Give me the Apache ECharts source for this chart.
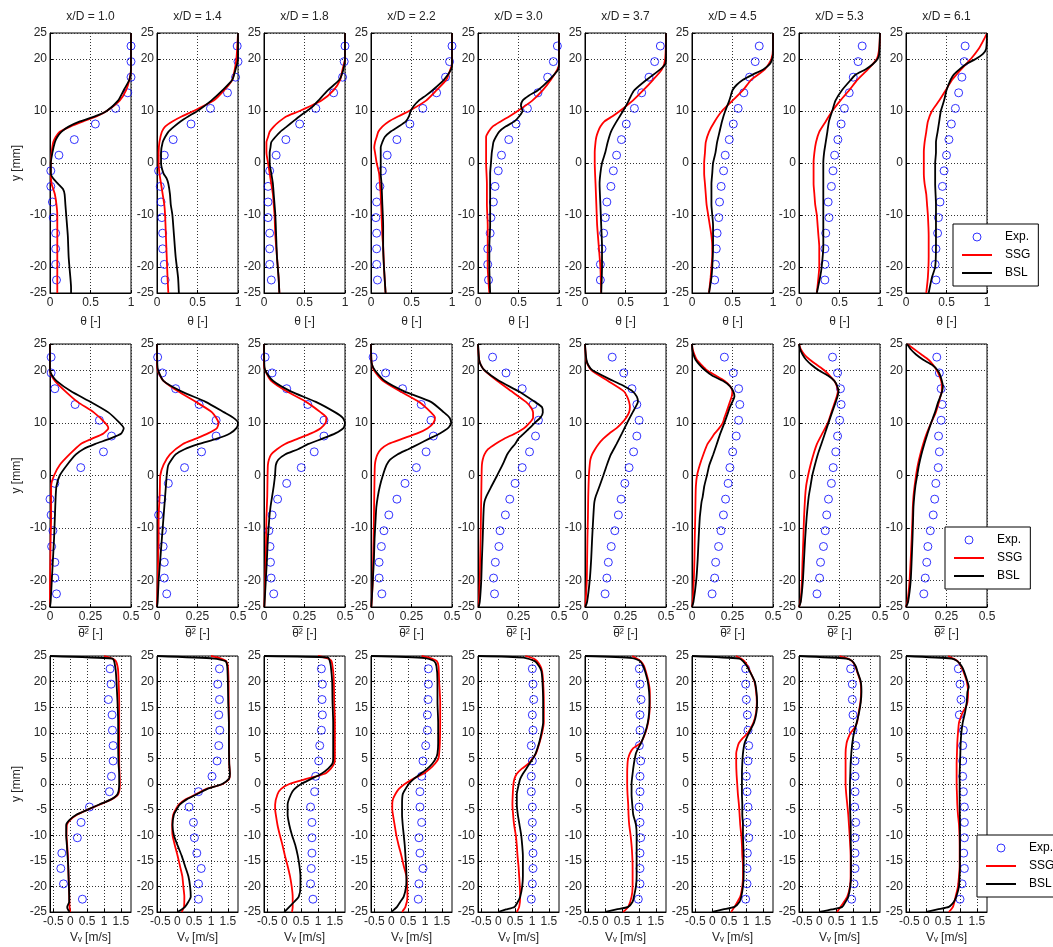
<!DOCTYPE html>
<html><head><meta charset="utf-8">
<script src="https://cdn.jsdelivr.net/npm/echarts@6/dist/echarts.min.js"></script>
<style>html,body{margin:0;padding:0;background:#fff}#c{width:1053px;height:947px}</style>
</head><body><div id="c"></div><script>
// ---------------- DATA ----------------
const titles = ['x/D = 1.0','x/D = 1.4','x/D = 1.8','x/D = 2.2','x/D = 3.0','x/D = 3.7','x/D = 4.5','x/D = 5.3','x/D = 6.1'];
const yExp = [22.5,19.5,16.5,13.5,10.5,7.5,4.5,1.5,-1.5,-4.5,-7.5,-10.5,-13.5,-16.5,-19.5,-22.5];
const yTicksAB = [-25,-20,-10,0,10,20,25];
const yTicksC = [-25,-20,-15,-10,-5,0,5,10,15,20,25];
const xTicksA = [0,0.5,1];
const xTicksB = [0,0.25,0.5];
const xTicksC = [-0.5,0,0.5,1,1.5];
const xNames = ['θ [-]', 'θ² [-]', 'V\u1d65 [m/s]'];
const overlinedPart = 'θ²';
const legendNames = ['Exp.','SSG','BSL'];

// Row 1: mean theta
const r1Exp = [
 [1.0,1.0,1.0,0.96,0.81,0.56,0.30,0.11,0.01,0.01,0.03,0.04,0.07,0.07,0.07,0.08],
 [0.99,1.0,0.97,0.87,0.66,0.42,0.20,0.09,0.02,0.04,0.05,0.06,0.07,0.07,0.09,0.10],
 [1.0,0.99,0.97,0.86,0.64,0.44,0.27,0.15,0.07,0.05,0.05,0.05,0.07,0.07,0.07,0.09],
 [1.0,0.97,0.92,0.81,0.64,0.48,0.32,0.20,0.14,0.11,0.07,0.06,0.07,0.07,0.07,0.08],
 [0.98,0.93,0.86,0.74,0.61,0.47,0.38,0.29,0.25,0.21,0.19,0.16,0.15,0.12,0.12,0.13],
 [0.93,0.86,0.79,0.70,0.61,0.51,0.45,0.39,0.35,0.32,0.27,0.25,0.23,0.21,0.19,0.19],
 [0.83,0.78,0.71,0.64,0.57,0.51,0.46,0.41,0.39,0.36,0.34,0.33,0.31,0.30,0.29,0.28],
 [0.78,0.73,0.67,0.62,0.56,0.52,0.48,0.44,0.42,0.40,0.36,0.37,0.33,0.32,0.32,0.32],
 [0.73,0.72,0.69,0.65,0.61,0.56,0.53,0.50,0.47,0.45,0.42,0.40,0.39,0.37,0.36,0.37]
];
const r1SSG = [
 [[1,25],[1,20],[1,18],[0.98,16],[0.94,14],[0.86,12],[0.70,10],[0.58,9],[0.41,8],[0.25,7],[0.12,6],[0.07,5],[0.04,4],[0.02,2],[0.01,0],[0.01,-2],[0.02,-4],[0.04,-5],[0.06,-6],[0.08,-8],[0.09,-10],[0.09,-15],[0.09,-20],[0.09,-25]],
 [[1,25],[0.99,22],[0.98,20],[0.96,18],[0.93,16],[0.83,14],[0.70,12],[0.45,10],[0.31,9],[0.19,8],[0.10,7],[0.06,6],[0.03,4],[0.02,2],[0.02,0],[0.03,-2],[0.05,-4],[0.07,-6],[0.09,-8],[0.10,-10],[0.11,-14],[0.12,-18],[0.13,-22],[0.14,-25]],
 [[1,25],[1,20],[0.97,18],[0.94,16],[0.86,14],[0.71,12],[0.44,10],[0.28,9],[0.19,8],[0.12,7],[0.07,6],[0.05,5],[0.03,4],[0.03,2],[0.05,0],[0.07,-2],[0.09,-4],[0.11,-6],[0.12,-8],[0.13,-10],[0.14,-14],[0.16,-18],[0.18,-22],[0.19,-25]],
 [[1,25],[1,19],[0.98,18],[0.93,16],[0.81,14],[0.68,12],[0.47,10],[0.34,9],[0.22,8],[0.14,7],[0.09,6],[0.07,5],[0.05,4],[0.04,3],[0.05,2],[0.07,0],[0.10,-2],[0.11,-4],[0.12,-6],[0.13,-10],[0.14,-14],[0.15,-16],[0.16,-20],[0.18,-25]],
 [[1,25],[1,19],[0.98,18],[0.90,16],[0.80,14],[0.67,12],[0.49,10],[0.39,9],[0.28,8],[0.18,7],[0.13,6],[0.10,5],[0.10,4],[0.10,2],[0.10,0],[0.11,-4],[0.11,-8],[0.12,-12],[0.12,-16],[0.12,-20],[0.14,-25]],
 [[1,25],[0.99,20],[0.95,18],[0.84,16],[0.72,14],[0.59,12],[0.43,10],[0.34,9],[0.24,8],[0.19,7],[0.16,6],[0.14,5],[0.13,4],[0.12,2],[0.12,0],[0.13,-4],[0.14,-8],[0.15,-12],[0.17,-16],[0.19,-20],[0.20,-25]],
 [[1,25],[1,22],[0.98,20],[0.90,18],[0.73,16],[0.63,14],[0.50,12],[0.37,10],[0.28,8],[0.21,6],[0.17,4],[0.16,2],[0.15,0],[0.15,-2],[0.16,-4],[0.17,-6],[0.18,-8],[0.20,-10],[0.22,-12],[0.24,-14],[0.25,-16],[0.25,-18],[0.24,-20],[0.23,-22],[0.21,-25]],
 [[1,25],[0.99,22],[0.96,20],[0.85,18],[0.72,16],[0.62,14],[0.51,12],[0.41,10],[0.33,8],[0.25,6],[0.21,4],[0.19,2],[0.18,0],[0.18,-2],[0.18,-4],[0.19,-6],[0.20,-8],[0.22,-10],[0.23,-12],[0.24,-14],[0.25,-16],[0.25,-18],[0.25,-20],[0.24,-22],[0.22,-25]],
 [[1,25],[0.97,24],[0.90,22],[0.80,20],[0.68,18],[0.57,16],[0.49,14],[0.41,12],[0.32,10],[0.27,8],[0.25,6],[0.23,4],[0.22,2],[0.22,0],[0.22,-2],[0.23,-4],[0.25,-6],[0.26,-8],[0.27,-10],[0.28,-14],[0.28,-18],[0.27,-22],[0.25,-25]]
];
const r1BSL = [
 [[1,25],[1,18],[0.98,16],[0.91,14],[0.84,12],[0.70,10],[0.56,9],[0.37,8],[0.23,7],[0.14,6],[0.09,5],[0.06,4],[0.03,2],[0.01,0],[0.01,-2],[0.04,-3],[0.10,-4],[0.16,-5],[0.18,-6],[0.19,-8],[0.20,-10],[0.22,-14],[0.23,-18],[0.24,-20],[0.26,-24],[0.26,-25]],
 [[1,25],[1,20],[0.97,18],[0.93,16],[0.81,14],[0.67,12],[0.50,10],[0.39,9],[0.29,8],[0.21,7],[0.14,6],[0.10,5],[0.07,4],[0.05,2],[0.05,0],[0.08,-2],[0.12,-3],[0.14,-4],[0.16,-6],[0.17,-8],[0.19,-10],[0.21,-14],[0.23,-18],[0.26,-22],[0.27,-25]],
 [[1,25],[1,20],[0.98,18],[0.93,16],[0.79,14],[0.67,12],[0.61,11],[0.53,10],[0.44,9],[0.36,8],[0.28,7],[0.20,6],[0.14,5],[0.09,4],[0.08,3],[0.07,2],[0.07,0],[0.09,-2],[0.11,-4],[0.12,-6],[0.14,-10],[0.15,-14],[0.16,-18],[0.18,-22],[0.19,-25]],
 [[1,25],[1,19],[0.99,18],[0.90,16],[0.76,14],[0.68,13],[0.59,12],[0.53,11],[0.49,10],[0.47,9],[0.43,8],[0.34,7],[0.24,6],[0.17,5],[0.14,4],[0.12,3],[0.12,2],[0.12,0],[0.12,-2],[0.13,-4],[0.14,-8],[0.15,-12],[0.15,-16],[0.16,-20],[0.18,-25]],
 [[1,25],[1,19],[0.99,18],[0.88,16],[0.74,14],[0.63,13],[0.55,12],[0.53,11],[0.55,10],[0.51,9],[0.45,8],[0.34,7],[0.26,6],[0.22,5],[0.19,4],[0.18,3],[0.17,2],[0.16,0],[0.15,-2],[0.15,-4],[0.15,-8],[0.15,-12],[0.14,-16],[0.14,-20],[0.15,-25]],
 [[1,25],[1,20],[0.99,19],[0.93,18],[0.76,16],[0.61,14],[0.57,13],[0.54,12],[0.47,10],[0.39,8],[0.32,6],[0.28,4],[0.25,2],[0.21,0],[0.19,-2],[0.18,-4],[0.19,-8],[0.20,-12],[0.21,-16],[0.21,-20],[0.20,-25]],
 [[1,25],[1,21],[0.99,20],[0.96,19],[0.88,18],[0.75,17],[0.63,16],[0.55,15],[0.50,14],[0.48,13],[0.46,12],[0.41,10],[0.37,8],[0.34,6],[0.31,4],[0.29,2],[0.26,0],[0.25,-2],[0.24,-4],[0.24,-8],[0.26,-12],[0.26,-16],[0.25,-20],[0.24,-22],[0.21,-25]],
 [[1,25],[0.99,21],[0.97,20],[0.91,19],[0.82,18],[0.70,17],[0.64,16],[0.53,14],[0.45,12],[0.41,10],[0.37,8],[0.35,6],[0.33,4],[0.31,2],[0.30,0],[0.30,-2],[0.30,-4],[0.30,-8],[0.30,-12],[0.30,-16],[0.28,-20],[0.26,-22],[0.22,-25]],
 [[1,25],[0.99,22],[0.95,21],[0.86,20],[0.74,19],[0.66,18],[0.59,17],[0.55,16],[0.50,14],[0.47,12],[0.43,10],[0.41,8],[0.39,6],[0.37,4],[0.37,2],[0.36,0],[0.36,-4],[0.37,-8],[0.37,-12],[0.37,-16],[0.36,-20],[0.32,-22],[0.28,-25]]
];

// Row 2: theta variance
const r2Exp = [
 [0.007,0.007,0.03,0.155,0.305,0.38,0.33,0.19,0.03,0.0,0.007,0.018,0.01,0.03,0.03,0.04],
 [0.004,0.033,0.115,0.26,0.365,0.365,0.275,0.17,0.07,0.03,0.01,0.033,0.038,0.045,0.045,0.06],
 [0.007,0.05,0.14,0.27,0.37,0.37,0.31,0.23,0.14,0.084,0.05,0.03,0.037,0.04,0.044,0.06],
 [0.013,0.09,0.195,0.31,0.37,0.385,0.34,0.28,0.21,0.16,0.11,0.08,0.064,0.05,0.05,0.067],
 [0.09,0.173,0.273,0.34,0.373,0.355,0.318,0.273,0.229,0.196,0.169,0.136,0.129,0.107,0.096,0.102],
 [0.168,0.239,0.29,0.32,0.334,0.32,0.30,0.272,0.246,0.223,0.206,0.184,0.162,0.144,0.135,0.124],
 [0.20,0.255,0.288,0.295,0.288,0.273,0.251,0.234,0.223,0.207,0.194,0.179,0.164,0.146,0.14,0.124],
 [0.207,0.238,0.256,0.26,0.251,0.238,0.227,0.211,0.20,0.182,0.171,0.162,0.151,0.133,0.127,0.111],
 [0.19,0.206,0.217,0.223,0.217,0.201,0.206,0.199,0.184,0.177,0.168,0.15,0.135,0.128,0.119,0.11]
];
const r2SSG = [
 [[0,25],[0,20],[0.01,19],[0.03,18],[0.095,16],[0.17,14],[0.27,12],[0.34,10],[0.36,9],[0.33,8],[0.26,7],[0.19,6],[0.12,4],[0.06,2],[0.025,0],[0.007,-2],[0.007,-4],[0.007,-8],[0.004,-12],[0.002,-16],[0,-20],[0,-25]],
 [[0,25],[0,21],[0.004,20],[0.04,18],[0.13,16],[0.24,14],[0.34,12],[0.38,10],[0.37,9],[0.315,8],[0.24,7],[0.16,6],[0.08,4],[0.04,2],[0.02,0],[0.018,-2],[0.016,-4],[0.01,-8],[0.01,-12],[0.007,-16],[0.004,-20],[0,-25]],
 [[0,25],[0,21],[0.007,20],[0.044,18],[0.14,16],[0.26,14],[0.35,12],[0.385,11],[0.38,10],[0.35,9],[0.29,8],[0.21,7],[0.13,6],[0.08,5],[0.044,4],[0.03,3],[0.024,2],[0.022,0],[0.02,-4],[0.015,-8],[0.013,-12],[0.011,-16],[0.007,-20],[0.002,-25]],
 [[0,25],[0.002,22],[0.007,21],[0.018,20],[0.073,18],[0.18,16],[0.295,14],[0.37,12],[0.395,11],[0.385,10],[0.35,9],[0.285,8],[0.195,7],[0.107,6],[0.062,5],[0.04,4],[0.029,3],[0.024,2],[0.022,0],[0.02,-4],[0.018,-8],[0.016,-12],[0.013,-16],[0.011,-20],[0.002,-25]],
 [[0,25],[0.007,22],[0.018,21],[0.04,20],[0.118,18],[0.207,16],[0.296,14],[0.325,13],[0.34,12],[0.34,11],[0.318,10],[0.284,9],[0.229,8],[0.162,7],[0.107,6],[0.062,5],[0.04,4],[0.029,3],[0.024,2],[0.022,0],[0.02,-4],[0.018,-8],[0.016,-12],[0.013,-16],[0.011,-20],[0.004,-25]],
 [[0,25],[0.002,24],[0.007,22],[0.018,21],[0.04,20],[0.14,18],[0.24,16],[0.26,15],[0.272,14],[0.277,13],[0.272,12],[0.254,11],[0.228,10],[0.195,9],[0.15,8],[0.113,7],[0.084,6],[0.062,5],[0.044,4],[0.033,3],[0.029,2],[0.024,0],[0.02,-4],[0.018,-8],[0.015,-12],[0.013,-16],[0.011,-20],[0.002,-25]],
 [[0,25],[0.004,24],[0.015,23],[0.03,22],[0.059,21],[0.092,20],[0.146,19],[0.20,18],[0.234,17],[0.249,16],[0.245,15],[0.234,14],[0.212,12],[0.20,11],[0.19,10],[0.168,9],[0.14,8],[0.118,7],[0.096,6],[0.07,4],[0.048,2],[0.031,0],[0.024,-2],[0.022,-4],[0.02,-8],[0.017,-12],[0.015,-16],[0.011,-20],[0.004,-24],[0,-25]],
 [[0,25],[0.011,24],[0.033,23],[0.067,22],[0.111,21],[0.156,20],[0.189,19],[0.218,18],[0.233,17],[0.24,16],[0.233,15],[0.222,14],[0.20,12],[0.178,10],[0.144,8],[0.111,6],[0.089,4],[0.071,2],[0.056,0],[0.044,-2],[0.038,-4],[0.031,-8],[0.027,-12],[0.022,-16],[0.018,-20],[0.009,-24],[0,-25]],
 [[0.007,25],[0.051,24],[0.095,23],[0.139,22],[0.168,21],[0.19,20],[0.206,19],[0.217,18],[0.221,17],[0.221,16],[0.212,15],[0.204,14],[0.184,12],[0.155,10],[0.128,8],[0.106,6],[0.088,4],[0.073,2],[0.062,0],[0.053,-2],[0.046,-4],[0.042,-6],[0.04,-8],[0.035,-12],[0.029,-16],[0.022,-20],[0.009,-24],[0,-25]]
];
const r2BSL = [
 [[0,25],[0,20],[0.013,19],[0.04,18],[0.13,16],[0.25,14],[0.36,12],[0.43,10],[0.455,9],[0.44,8],[0.37,7],[0.28,6],[0.205,5],[0.16,4],[0.105,2],[0.06,0],[0.04,-2],[0.035,-4],[0.03,-8],[0.025,-12],[0.018,-16],[0.011,-20],[0.004,-24],[0,-25]],
 [[0,25],[0.002,21],[0.007,20],[0.04,18],[0.15,16],[0.30,14],[0.415,12],[0.47,11],[0.50,10],[0.49,9],[0.45,8],[0.37,7],[0.26,6],[0.17,5],[0.115,4],[0.07,2],[0.06,0],[0.055,-2],[0.05,-4],[0.04,-8],[0.03,-12],[0.02,-16],[0.01,-20],[0.004,-24],[0,-25]],
 [[0,25],[0.002,21],[0.007,20],[0.055,18],[0.165,16],[0.32,14],[0.44,12],[0.485,11],[0.50,10],[0.49,9],[0.44,8],[0.36,7],[0.275,6],[0.21,5],[0.13,4],[0.088,3],[0.073,2],[0.068,0],[0.06,-2],[0.05,-4],[0.04,-6],[0.033,-8],[0.024,-12],[0.018,-16],[0.011,-20],[0.004,-24],[0.002,-25]],
 [[0,25],[0.002,22],[0.007,21],[0.024,20],[0.084,18],[0.205,16],[0.37,14],[0.45,12],[0.485,11],[0.495,10],[0.475,9],[0.425,8],[0.36,7],[0.295,6],[0.23,5],[0.163,4],[0.118,3],[0.096,2],[0.073,0],[0.055,-2],[0.042,-4],[0.033,-6],[0.029,-8],[0.022,-12],[0.018,-16],[0.011,-20],[0.004,-24],[0.002,-25]],
 [[0,25],[0.007,22],[0.018,21],[0.04,20],[0.129,18],[0.25,16],[0.35,14],[0.395,13],[0.40,12],[0.385,11],[0.35,10],[0.318,9],[0.284,8],[0.25,7],[0.229,6],[0.202,5],[0.18,4],[0.151,2],[0.118,0],[0.084,-2],[0.051,-4],[0.04,-5],[0.036,-6],[0.033,-8],[0.029,-12],[0.024,-16],[0.02,-20],[0.011,-24],[0.004,-25]],
 [[0,25],[0.002,24],[0.009,22],[0.02,21],[0.046,20],[0.173,18],[0.24,17],[0.294,16],[0.32,15],[0.327,14],[0.312,13],[0.294,12],[0.26,10],[0.228,8],[0.195,6],[0.16,4],[0.135,2],[0.113,0],[0.09,-2],[0.066,-4],[0.058,-5],[0.055,-6],[0.051,-8],[0.044,-12],[0.038,-16],[0.029,-20],[0.013,-24],[0.002,-25]],
 [[0,25],[0.002,24],[0.009,23],[0.022,22],[0.048,21],[0.081,20],[0.124,19],[0.19,18],[0.234,17],[0.255,16],[0.262,15],[0.249,14],[0.234,13],[0.223,12],[0.20,10],[0.175,8],[0.153,6],[0.131,4],[0.107,2],[0.092,0],[0.076,-2],[0.066,-4],[0.059,-5],[0.055,-6],[0.048,-8],[0.041,-12],[0.035,-16],[0.026,-20],[0.009,-24],[0,-25]],
 [[0,25],[0.007,24],[0.022,23],[0.044,22],[0.078,21],[0.122,20],[0.178,19],[0.218,18],[0.236,17],[0.244,16],[0.238,15],[0.227,14],[0.204,12],[0.182,10],[0.16,8],[0.138,6],[0.116,4],[0.098,2],[0.082,0],[0.071,-2],[0.06,-4],[0.053,-6],[0.047,-8],[0.038,-12],[0.031,-16],[0.024,-20],[0.011,-24],[0,-25]],
 [[0.007,25],[0.029,24],[0.062,23],[0.106,22],[0.162,21],[0.195,20],[0.212,19],[0.221,18],[0.228,17],[0.223,16],[0.212,15],[0.199,14],[0.179,12],[0.155,10],[0.133,8],[0.113,6],[0.095,4],[0.08,2],[0.069,0],[0.058,-2],[0.051,-4],[0.046,-6],[0.044,-8],[0.04,-12],[0.035,-16],[0.029,-20],[0.013,-24],[0,-25]]
];

// Row 3: vertical velocity
const r3Exp = [
 [1.18,1.21,1.13,1.24,1.25,1.27,1.27,1.22,1.16,0.57,0.32,0.21,-0.25,-0.28,-0.20,0.36],
 [1.25,1.20,1.25,1.23,1.26,1.23,1.18,1.03,0.63,0.35,0.48,0.51,0.58,0.71,0.63,0.63],
 [1.10,1.13,1.12,1.13,1.10,1.05,1.02,0.93,0.90,0.78,0.82,0.82,0.82,0.80,0.78,0.85],
 [1.10,1.10,1.09,1.07,1.07,1.02,0.94,0.90,0.85,0.85,0.90,0.82,0.85,0.94,0.82,0.80],
 [1.01,1.03,1.05,1.01,1.03,0.98,1.01,0.98,0.98,1.01,1.01,1.01,1.03,1.03,1.01,0.98],
 [1.01,1.03,1.06,1.03,1.03,1.01,1.05,1.03,1.03,1.00,1.03,1.05,1.03,1.03,1.03,0.98],
 [0.99,0.99,1.01,1.04,1.06,1.08,1.06,1.01,1.03,1.06,1.03,1.08,1.04,1.03,1.03,0.99],
 [0.93,0.98,0.98,1.00,1.00,1.08,1.06,1.06,1.06,1.05,1.08,1.06,1.06,1.06,1.03,0.96],
 [0.95,1.0,1.03,0.98,1.10,1.08,1.08,1.08,1.10,1.13,1.13,1.13,1.11,1.13,1.06,1.0]
];
const r3SSG = [
 [[1.0,25],[1.25,24.5],[1.35,24],[1.40,23],[1.42,22],[1.45,16],[1.45,12],[1.45,4],[1.47,0],[1.42,-2],[1.22,-3],[0.88,-4],[0.52,-5],[0.20,-6],[0.0,-7],[-0.10,-8],[-0.11,-10],[-0.09,-12],[-0.07,-14],[-0.06,-16],[-0.04,-20],[-0.03,-22],[-0.02,-24],[0.0,-25]],
 [[1.0,25],[1.3,24.5],[1.45,24],[1.50,23],[1.52,20],[1.53,12],[1.54,4],[1.56,2],[1.54,1],[1.35,0],[0.85,-1],[0.55,-2],[0.25,-3],[0.05,-4],[-0.05,-5],[-0.12,-6],[-0.15,-8],[-0.14,-10],[-0.07,-12],[0.01,-14],[0.08,-16],[0.15,-18],[0.18,-20],[0.21,-22],[0.20,-24],[0.13,-25]],
 [[1.0,25],[1.3,24.5],[1.40,24],[1.45,22],[1.47,20],[1.48,16],[1.50,12],[1.50,8],[1.50,5],[1.48,4],[1.38,3],[1.20,2],[0.65,1],[0.15,0],[-0.10,-1],[-0.20,-2],[-0.27,-4],[-0.27,-5],[-0.25,-6],[-0.20,-8],[-0.13,-10],[-0.05,-12],[0.02,-14],[0.10,-16],[0.17,-18],[0.22,-20],[0.25,-22],[0.25,-24],[0.23,-25]],
 [[0.9,25],[1.2,24.5],[1.35,24],[1.40,23],[1.42,20],[1.45,16],[1.45,12],[1.44,8],[1.42,6],[1.40,5],[1.30,4],[1.15,3],[0.95,2],[0.65,1],[0.40,0],[0.22,-1],[0.12,-2],[0.05,-3],[0.03,-4],[0.03,-5],[0.05,-6],[0.10,-8],[0.15,-10],[0.22,-12],[0.30,-14],[0.37,-16],[0.45,-18],[0.47,-20],[0.48,-22],[0.42,-24],[0.32,-25]],
 [[0.8,25],[1.05,24.5],[1.15,24],[1.25,23],[1.30,22],[1.33,20],[1.35,16],[1.35,12],[1.30,10],[1.22,8],[1.12,6],[1.02,5],[0.90,4],[0.70,3],[0.55,2],[0.48,1],[0.45,0],[0.43,-2],[0.42,-4],[0.44,-6],[0.47,-8],[0.52,-10],[0.55,-12],[0.57,-14],[0.60,-16],[0.62,-18],[0.64,-20],[0.65,-22],[0.62,-24],[0.55,-25]],
 [[0.8,25],[1.05,24],[1.15,23],[1.20,22],[1.28,20],[1.32,18],[1.32,16],[1.31,14],[1.27,12],[1.19,10],[1.05,8],[0.83,7],[0.73,6],[0.68,5],[0.66,4],[0.65,2],[0.65,0],[0.66,-2],[0.68,-4],[0.69,-6],[0.71,-8],[0.75,-10],[0.78,-12],[0.80,-14],[0.81,-16],[0.81,-18],[0.81,-20],[0.78,-22],[0.68,-24],[0.53,-25]],
 [[0.7,25],[0.85,24.5],[0.95,24],[1.05,23],[1.12,22],[1.25,20],[1.30,18],[1.32,16],[1.30,14],[1.22,12],[1.06,10],[0.91,9],[0.79,8],[0.74,7],[0.71,6],[0.71,4],[0.72,2],[0.74,0],[0.76,-2],[0.79,-4],[0.81,-6],[0.83,-8],[0.86,-10],[0.88,-12],[0.89,-14],[0.91,-16],[0.91,-18],[0.89,-20],[0.83,-22],[0.66,-24],[0.56,-25]],
 [[0.6,25],[0.85,24.5],[0.97,24],[1.07,23],[1.12,22],[1.22,20],[1.24,18],[1.22,16],[1.17,14],[1.12,12],[1.05,11],[0.93,10],[0.86,9],[0.81,8],[0.78,6],[0.78,4],[0.78,2],[0.78,0],[0.80,-2],[0.83,-4],[0.86,-6],[0.88,-8],[0.90,-10],[0.93,-14],[0.93,-18],[0.91,-20],[0.83,-22],[0.63,-24],[0.53,-25]],
 [[0.65,25],[0.8,24.5],[0.93,24],[1.03,23],[1.10,22],[1.20,20],[1.24,18],[1.22,16],[1.17,15],[1.08,14],[1.02,13],[0.97,12],[0.94,10],[0.92,8],[0.91,6],[0.90,4],[0.90,2],[0.90,0],[0.91,-2],[0.92,-4],[0.94,-6],[0.97,-8],[0.99,-12],[0.99,-16],[0.97,-18],[0.94,-20],[0.87,-22],[0.79,-24],[0.67,-25]]
];
const r3BSL = [
 [[-0.6,25],[1.25,24.5],[1.30,24],[1.33,23],[1.35,22],[1.37,20],[1.40,16],[1.42,12],[1.42,8],[1.43,4],[1.45,2],[1.45,0],[1.40,-2],[1.21,-3],[0.86,-4],[0.52,-5],[0.18,-6],[-0.02,-7],[-0.12,-8],[-0.12,-10],[-0.10,-12],[-0.08,-14],[-0.06,-16],[-0.05,-18],[-0.04,-20],[-0.03,-22],[-0.03,-23],[-0.09,-24],[-0.07,-24.5],[-0.02,-25]],
 [[-0.6,25],[1.1,24.5],[1.43,24],[1.48,23],[1.50,20],[1.51,16],[1.53,12],[1.53,8],[1.54,4],[1.56,2],[1.53,1],[1.33,0],[0.88,-1],[0.58,-2],[0.28,-3],[0.08,-4],[-0.02,-5],[-0.10,-6],[-0.14,-8],[-0.10,-10],[0.01,-12],[0.13,-14],[0.23,-16],[0.33,-18],[0.38,-20],[0.40,-22],[0.33,-23],[0.23,-24],[0.13,-24.5],[0.0,-25]],
 [[-0.6,25],[1.3,24.7],[1.35,24],[1.38,23],[1.42,20],[1.43,16],[1.45,12],[1.45,8],[1.45,5],[1.43,4],[1.30,3],[1.10,2],[0.80,1],[0.50,0],[0.30,-1],[0.20,-2],[0.10,-4],[0.10,-6],[0.15,-8],[0.23,-10],[0.33,-12],[0.40,-14],[0.45,-16],[0.48,-18],[0.48,-20],[0.43,-22],[0.30,-23],[0.15,-24],[0.0,-25]],
 [[-0.6,25],[1.0,24.6],[1.27,24],[1.34,23],[1.37,20],[1.37,16],[1.39,12],[1.39,8],[1.37,6],[1.32,5],[1.22,4],[1.07,3],[0.87,2],[0.67,1],[0.52,0],[0.42,-1],[0.34,-2],[0.32,-4],[0.32,-6],[0.34,-8],[0.37,-10],[0.40,-12],[0.42,-14],[0.44,-16],[0.45,-18],[0.44,-20],[0.37,-22],[0.27,-23],[0.17,-24],[0.09,-24.5],[0.0,-25]],
 [[-0.6,25],[0.75,24.7],[1.08,24],[1.21,23],[1.28,22],[1.31,20],[1.33,16],[1.33,12],[1.28,10],[1.21,8],[1.11,6],[1.03,5],[0.93,4],[0.83,3],[0.73,2],[0.65,1],[0.61,0],[0.55,-2],[0.55,-4],[0.58,-6],[0.63,-8],[0.68,-10],[0.71,-12],[0.73,-14],[0.73,-16],[0.73,-18],[0.71,-20],[0.65,-22],[0.58,-23],[0.48,-24],[0.23,-24.5],[0.0,-25]],
 [[-0.6,25],[0.8,24.6],[1.03,24],[1.13,23],[1.18,22],[1.26,20],[1.30,18],[1.31,16],[1.30,14],[1.26,12],[1.18,10],[1.06,8],[0.98,7],[0.91,6],[0.85,4],[0.81,2],[0.78,0],[0.78,-2],[0.80,-4],[0.83,-6],[0.91,-8],[0.93,-10],[0.93,-14],[0.93,-18],[0.91,-20],[0.85,-22],[0.81,-23],[0.68,-24],[0.33,-24.5],[0.0,-25]],
 [[-0.6,25],[0.8,24.5],[0.91,24],[1.03,23],[1.11,22],[1.26,20],[1.31,18],[1.33,16],[1.31,14],[1.24,12],[1.09,10],[0.96,8],[0.91,6],[0.89,4],[0.88,2],[0.88,0],[0.88,-2],[0.89,-4],[0.89,-6],[0.91,-8],[0.91,-10],[0.93,-14],[0.93,-18],[0.91,-20],[0.86,-22],[0.81,-23],[0.66,-24],[0.32,-24.5],[0.0,-25]],
 [[-0.6,25],[0.8,24.5],[0.98,24],[1.08,23],[1.13,22],[1.23,20],[1.25,18],[1.23,16],[1.18,14],[1.11,12],[1.03,10],[0.98,8],[0.95,6],[0.93,4],[0.92,2],[0.91,0],[0.91,-2],[0.91,-4],[0.92,-6],[0.93,-8],[0.93,-10],[0.94,-14],[0.94,-18],[0.92,-20],[0.86,-22],[0.78,-23],[0.68,-24],[0.38,-24.5],[0.0,-25]],
 [[-0.6,25],[0.75,24.5],[0.92,24],[1.05,23],[1.12,22],[1.22,20],[1.26,19],[1.22,18],[1.20,16],[1.15,14],[1.08,12],[1.04,10],[1.02,8],[1.01,6],[1.00,4],[0.99,2],[0.99,0],[0.99,-4],[1.00,-8],[1.00,-12],[1.00,-16],[0.99,-18],[0.97,-20],[0.89,-22],[0.82,-23],[0.67,-24],[0.33,-24.5],[0.0,-25]]
];

// ---------------- BUILD ----------------
const FONT = "'Liberation Sans', Arial, 'DejaVu Sans', sans-serif";
const TXT = '#262626';
const rows = [
  {exp:r1Exp, ssg:r1SSG, bsl:r1BSL, xr:[0,1], xt:xTicksA, yt:yTicksAB, top:33, h:260, legend:[953,224], nameGap:23},
  {exp:r2Exp, ssg:r2SSG, bsl:r2BSL, xr:[0,0.5], xt:xTicksB, yt:yTicksAB, top:344, h:263, legend:[945,527], nameGap:null},
  {exp:r3Exp, ssg:r3SSG, bsl:r3BSL, xr:[-0.6,1.8], xt:xTicksC, yt:yTicksC, top:656, h:256, legend:[977,835], nameGap:20}
];
const mctx = document.createElement('canvas').getContext('2d');
mctx.font = '12px ' + FONT;
const wOver = mctx.measureText(overlinedPart).width;
const wAll = mctx.measureText(xNames[1]).width;

const grid=[], xAxis=[], yAxis=[], series=[], graphic=[];
rows.forEach((row, r) => {
  for (let c = 0; c < 9; c++) {
    const idx = r*9 + c;
    const left = 50 + 107*c;
    const cx = left + 40.5;
    grid.push({left:left, top:row.top, width:81, height:row.h, show:true, borderColor:'#000', borderWidth:1, backgroundColor:'#fff'});
    const split = {show:true, lineStyle:{color:'#333', width:1, type:[1,2]}};
    const xa = {type:'value', gridIndex:idx, min:row.xr[0], max:row.xr[1],
      axisLine:{show:true, onZero:false, lineStyle:{color:'#000'}},
      axisTick:{show:true, inside:true, length:3, customValues:row.xt, lineStyle:{color:'#000'}},
      axisLabel:{customValues:row.xt, fontSize:12, color:TXT, margin:4, fontFamily:FONT, hideOverlap:false},
      splitLine:split};
    if (row.nameGap !== null) {
      xa.name = xNames[r]; xa.nameLocation = 'middle'; xa.nameGap = row.nameGap;
      xa.nameTextStyle = {fontSize:12, color:TXT, fontFamily:FONT};
    } else {
      const ny = row.top + row.h + 27;
      graphic.push({type:'text', x:cx, y:ny, silent:true,
        style:{text:xNames[r], align:'center', verticalAlign:'middle', textAlign:'center', textVerticalAlign:'middle',
          font:'12px ' + FONT, fill:TXT}});
      const x0 = cx - wAll/2;
      graphic.push({type:'line', silent:true, shape:{x1:x0, y1:ny-7.5, x2:x0+wOver, y2:ny-7.5},
        style:{stroke:TXT, lineWidth:1}});
    }
    xAxis.push(xa);
    yAxis.push({type:'value', gridIndex:idx, min:-25, max:25,
      axisLine:{show:true, onZero:false, lineStyle:{color:'#000'}},
      axisTick:{show:true, inside:true, length:3, customValues:row.yt, lineStyle:{color:'#000'}},
      axisLabel:{customValues:row.yt, fontSize:12, color:TXT, margin:3, fontFamily:FONT},
      splitLine:split,
      name:(c===0?'y [mm]':''), nameLocation:'middle', nameGap:27,
      nameTextStyle:{fontSize:12, color:TXT, fontFamily:FONT}
    });
    series.push({type:'scatter', name:'Exp.', xAxisIndex:idx, yAxisIndex:idx,
      data:row.exp[c].map((v,k)=>[v, yExp[k]]), symbol:'circle', symbolSize:8,
      itemStyle:{color:'rgba(0,0,0,0)', borderColor:'#0000ff', borderWidth:1}, z:2});
    series.push({type:'line', name:'SSG', xAxisIndex:idx, yAxisIndex:idx, data:row.ssg[c],
      symbol:'none', showSymbol:false, smooth:0.2, lineStyle:{color:'#ff0000', width:1.8}, itemStyle:{color:'#ff0000'}, z:3});
    series.push({type:'line', name:'BSL', xAxisIndex:idx, yAxisIndex:idx, data:row.bsl[c],
      symbol:'none', showSymbol:false, smooth:0.2, lineStyle:{color:'#000000', width:1.8}, itemStyle:{color:'#000000'}, z:4});
    if (r === 0) {
      graphic.push({type:'text', x:cx, y:17, silent:true,
        style:{text:titles[c], align:'center', verticalAlign:'middle', textAlign:'center', textVerticalAlign:'middle',
          font:'12px ' + FONT, fill:TXT}});
    }
  }
});
const legendColors = {'Exp.':'#0000ff', 'SSG':'#ff0000', 'BSL':'#000000'};
const legend = rows.map(row => ({
  data: legendNames.map(n => n === 'Exp.'
    ? {name:n, icon:'circle', itemStyle:{color:'rgba(0,0,0,0)', borderColor:legendColors[n], borderWidth:1}}
    : {name:n, icon:'path://M0,0H30V2H0Z', itemStyle:{color:legendColors[n], borderWidth:0}, lineStyle:{width:0}}),
  orient:'vertical', left:row.legend[0], top:row.legend[1],
  itemWidth:30, itemHeight:8, itemGap:6, padding:[7,8,7,9],
  backgroundColor:'#fff', borderColor:'#000', borderWidth:1, borderRadius:0,
  textStyle:{fontSize:12, color:'#000', fontFamily:FONT, padding:[0,0,0,8]},
  selectedMode:false
}));
const chart = echarts.init(document.getElementById('c'), null, {renderer:'canvas'});
chart.setOption({animation:false, backgroundColor:'#fff', grid, xAxis, yAxis, series, legend, graphic});
</script></body></html>
